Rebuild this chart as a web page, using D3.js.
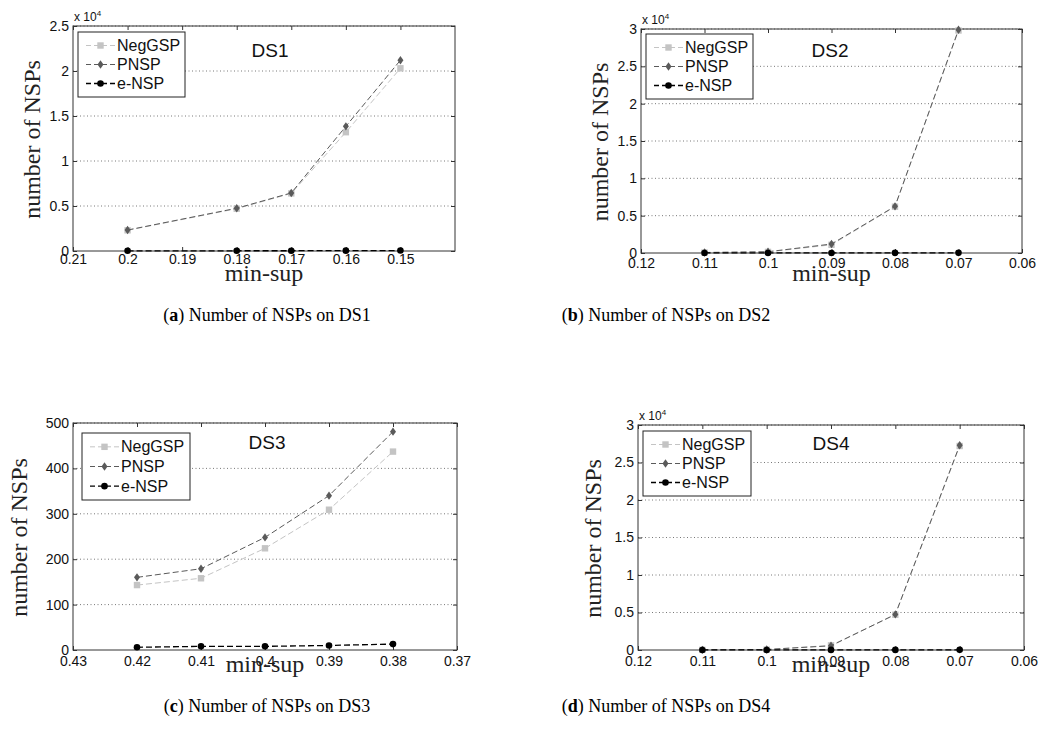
<!DOCTYPE html>
<html>
<head>
<meta charset="utf-8">
<script src="https://cdn.jsdelivr.net/npm/d3@7"></script>
<style>
  html, body { margin: 0; padding: 0; background: #fff; }
  svg { display: block; }
</style>
</head>
<body>
<div id="chart"></div>
<script>
// ---- data ----
const seriesNames = ['NegGSP', 'PNSP', 'e-NSP'];

const minSupDS1 = [0.2, 0.18, 0.17, 0.16, 0.15];
const negGspDS1 = [2300, 4700, 6400, 13200, 20300];
const pnspDS1 = [2330, 4750, 6450, 13850, 21200];
const eNspDS1 = [20, 25, 30, 40, 50];

const minSupDS2 = [0.11, 0.1, 0.09, 0.08, 0.07];
const negGspDS2 = [60, 150, 1100, 6200, 29800];
const pnspDS2 = [70, 170, 1200, 6250, 29900];
const eNspDS2 = [5, 8, 10, 15, 20];

const minSupDS3 = [0.42, 0.41, 0.4, 0.39, 0.38];
const negGspDS3 = [143, 158, 224, 309, 437];
const pnspDS3 = [160, 179, 248, 340, 481];
const eNspDS3 = [6, 8, 8, 10, 13];

const minSupDS4 = [0.11, 0.1, 0.09, 0.08, 0.07];
const negGspDS4 = [20, 60, 620, 4700, 27200];
const pnspDS4 = [20, 70, 560, 4750, 27300];
const eNspDS4 = [5, 8, 10, 15, 20];

const xTicksDS1 = [0.21, 0.2, 0.19, 0.18, 0.17, 0.16, 0.15];
const xTicksDS2 = [0.12, 0.11, 0.1, 0.09, 0.08, 0.07, 0.06];
const xTicksDS3 = [0.43, 0.42, 0.41, 0.4, 0.39, 0.38, 0.37];
const xTicksDS4 = [0.12, 0.11, 0.1, 0.09, 0.08, 0.07, 0.06];

const yTicksDS1 = [0, 5000, 10000, 15000, 20000, 25000];
const yTicksDS2 = [0, 5000, 10000, 15000, 20000, 25000, 30000];
const yTicksDS3 = [0, 100, 200, 300, 400, 500];
const yTicksDS4 = [0, 5000, 10000, 15000, 20000, 25000, 30000];

// ---- layout ----
const W = 1042, H = 745;
const svg = d3.select('#chart').append('svg')
  .attr('width', W).attr('height', H)
  .attr('viewBox', [0, 0, W, H]);

const sans = 'Liberation Sans, Arial, Helvetica, sans-serif';
const serif = 'Liberation Serif, Times New Roman, serif';

const styles = [
  { color: '#c4c4c4', dash: '6,3', width: 1, marker: 'square' },
  { color: '#5a5a5a', dash: '6,3', width: 1, marker: 'diamond' },
  { color: '#000', dash: '6,3', width: 1.3, marker: 'circle' }
];

const panels = [
  { name: 'DS1', cap: 'a', x: minSupDS1, series: [negGspDS1, pnspDS1, eNspDS1],
    xTicks: xTicksDS1, yTicks: yTicksDS1, xDomain: [0.21, 0.14], exp: true,
    left: 73, right: 455, top: 26, bottom: 251, xPad: 3,
    title: [270, 57], legend: { x: 78, y: 32, w: 107, h: 65 },
    yLabelX: 40, xLabelY: 281, capX: 267, capY: 321 },
  { name: 'DS2', cap: 'b', x: minSupDS2, series: [negGspDS2, pnspDS2, eNspDS2],
    xTicks: xTicksDS2, yTicks: yTicksDS2, xDomain: [0.12, 0.06], exp: true,
    left: 641, right: 1022, top: 29, bottom: 253, xPad: 5,
    title: [830, 57], legend: { x: 646, y: 34, w: 107, h: 65 },
    yLabelX: 608, xLabelY: 281, capX: 666, capY: 321 },
  { name: 'DS3', cap: 'c', x: minSupDS3, series: [negGspDS3, pnspDS3, eNspDS3],
    xTicks: xTicksDS3, yTicks: yTicksDS3, xDomain: [0.43, 0.37], exp: false,
    left: 73, right: 457, top: 423, bottom: 650, xPad: 6,
    title: [267, 449], legend: { x: 82, y: 433, w: 108, h: 67 },
    yLabelX: 27, xLabelY: 672, capX: 267, capY: 712 },
  { name: 'DS4', cap: 'd', x: minSupDS4, series: [negGspDS4, pnspDS4, eNspDS4],
    xTicks: xTicksDS4, yTicks: yTicksDS4, xDomain: [0.12, 0.06], exp: true,
    left: 638, right: 1024, top: 425, bottom: 650, xPad: 6,
    title: [831, 450], legend: { x: 643, y: 431, w: 108, h: 65 },
    yLabelX: 601, xLabelY: 672, capX: 666, capY: 712 }
];

function drawMarker(sel, type, color) {
  if (type === 'square') {
    sel.append('rect').attr('x', -3.2).attr('y', -3.2).attr('width', 6.4).attr('height', 6.4)
      .attr('fill', color);
  } else if (type === 'diamond') {
    sel.append('path').attr('d', 'M0,-4.2L3,0L0,4.2L-3,0Z').attr('fill', color);
  } else {
    sel.append('circle').attr('r', 3.3).attr('fill', color);
  }
}

panels.forEach(p => {
  const g = svg.append('g');
  const x = d3.scaleLinear().domain(p.xDomain).range([p.left, p.right]);
  const yMax = p.yTicks[p.yTicks.length - 1];
  const y = d3.scaleLinear().domain([0, yMax]).range([p.bottom, p.top]);

  // grid (dotted, horizontal only)
  g.append('g').selectAll('line')
    .data(p.yTicks.filter(v => v > 0))
    .join('line')
    .attr('x1', p.left).attr('x2', p.right)
    .attr('y1', d => y(d)).attr('y2', d => y(d))
    .attr('stroke', '#555').attr('stroke-width', 0.8)
    .attr('stroke-dasharray', '1,2.5');

  // frame
  g.append('rect')
    .attr('x', p.left).attr('y', p.top)
    .attr('width', p.right - p.left).attr('height', p.bottom - p.top)
    .attr('fill', 'none').attr('stroke', '#333').attr('stroke-width', 1);

  // axes with inward ticks
  const fmtY = v => p.exp ? String(+(v / 1e4).toFixed(1)) : String(v);
  const bottomAxis = d3.axisBottom(x).tickValues(p.xTicks).tickSize(-4).tickPadding(p.xPad)
    .tickFormat(d => String(d));
  const topAxis = d3.axisTop(x).tickValues(p.xTicks).tickSize(-4).tickFormat('');
  const leftAxis = d3.axisLeft(y).tickValues(p.yTicks).tickSize(-4).tickPadding(4).tickFormat(fmtY);
  const rightAxis = d3.axisRight(y).tickValues(p.yTicks).tickSize(-4).tickFormat('');

  [[bottomAxis, `translate(0,${p.bottom})`], [topAxis, `translate(0,${p.top})`],
   [leftAxis, `translate(${p.left},0)`], [rightAxis, `translate(${p.right},0)`]]
    .forEach(([ax, tr]) => {
      const a = g.append('g').attr('transform', tr).call(ax);
      a.select('.domain').remove();
      a.selectAll('line').attr('stroke', '#333');
      a.selectAll('text').attr('font-family', sans).attr('font-size', 14).attr('fill', '#111');
    });

  // exponent label
  if (p.exp) {
    const t = g.append('text').attr('x', p.left + 1).attr('y', p.top - 5)
      .attr('font-family', sans).attr('font-size', 12).attr('fill', '#111');
    t.append('tspan').text('x 10');
    t.append('tspan').attr('dy', -5).attr('font-size', 8).text('4');
  }

  // series
  const line = d3.line().x(d => x(d[0])).y(d => y(d[1]));
  p.series.forEach((vals, i) => {
    const st = styles[i];
    const pts = p.x.map((xv, j) => [xv, vals[j]]);
    g.append('path').datum(pts)
      .attr('d', line)
      .attr('fill', 'none')
      .attr('stroke', st.color)
      .attr('stroke-width', st.width)
      .attr('stroke-dasharray', st.dash);
    g.append('g').selectAll('g')
      .data(pts)
      .join('g')
      .attr('transform', d => `translate(${x(d[0])},${y(d[1])})`)
      .each(function () { drawMarker(d3.select(this), st.marker, st.color); });
  });

  // title
  g.append('text').attr('x', p.title[0]).attr('y', p.title[1])
    .attr('text-anchor', 'middle').attr('font-family', sans).attr('font-size', 19)
    .attr('fill', '#111').text(p.name);

  // legend
  const L = p.legend;
  const lg = g.append('g');
  lg.append('rect').attr('x', L.x).attr('y', L.y).attr('width', L.w).attr('height', L.h)
    .attr('fill', '#fff').attr('stroke', '#222').attr('stroke-width', 1);
  const rowH = (L.h - 8) / 3;
  seriesNames.forEach((name, i) => {
    const st = styles[i];
    const cy = L.y + 4 + rowH * (i + 0.5);
    lg.append('line').attr('x1', L.x + 8).attr('x2', L.x + 37)
      .attr('y1', cy).attr('y2', cy)
      .attr('stroke', st.color).attr('stroke-width', st.width)
      .attr('stroke-dasharray', '5,3');
    drawMarker(lg.append('g').attr('transform', `translate(${L.x + 22.5},${cy})`), st.marker, st.color);
    lg.append('text').attr('x', L.x + 39).attr('y', cy + 5.5)
      .attr('font-family', sans).attr('font-size', 16).attr('fill', '#111').text(name);
  });

  // axis labels
  const cy = (p.top + p.bottom) / 2 + 1;
  g.append('text')
    .attr('transform', `translate(${p.yLabelX},${cy}) rotate(-90)`)
    .attr('text-anchor', 'middle').attr('font-family', serif).attr('font-size', 24)
    .attr('fill', '#222').text('number of NSPs');
  g.append('text')
    .attr('x', (p.left + p.right) / 2).attr('y', p.xLabelY)
    .attr('text-anchor', 'middle').attr('font-family', serif).attr('font-size', 24)
    .attr('fill', '#222').text('min-sup');

  // caption
  const c = svg.append('text').attr('x', p.capX).attr('y', p.capY)
    .attr('text-anchor', 'middle').attr('font-family', serif).attr('font-size', 18)
    .attr('fill', '#000');
  c.append('tspan').text('(');
  c.append('tspan').attr('font-weight', 'bold').text(p.cap);
  c.append('tspan').text(') Number of NSPs on ' + p.name);
});
</script>
</body>
</html>
